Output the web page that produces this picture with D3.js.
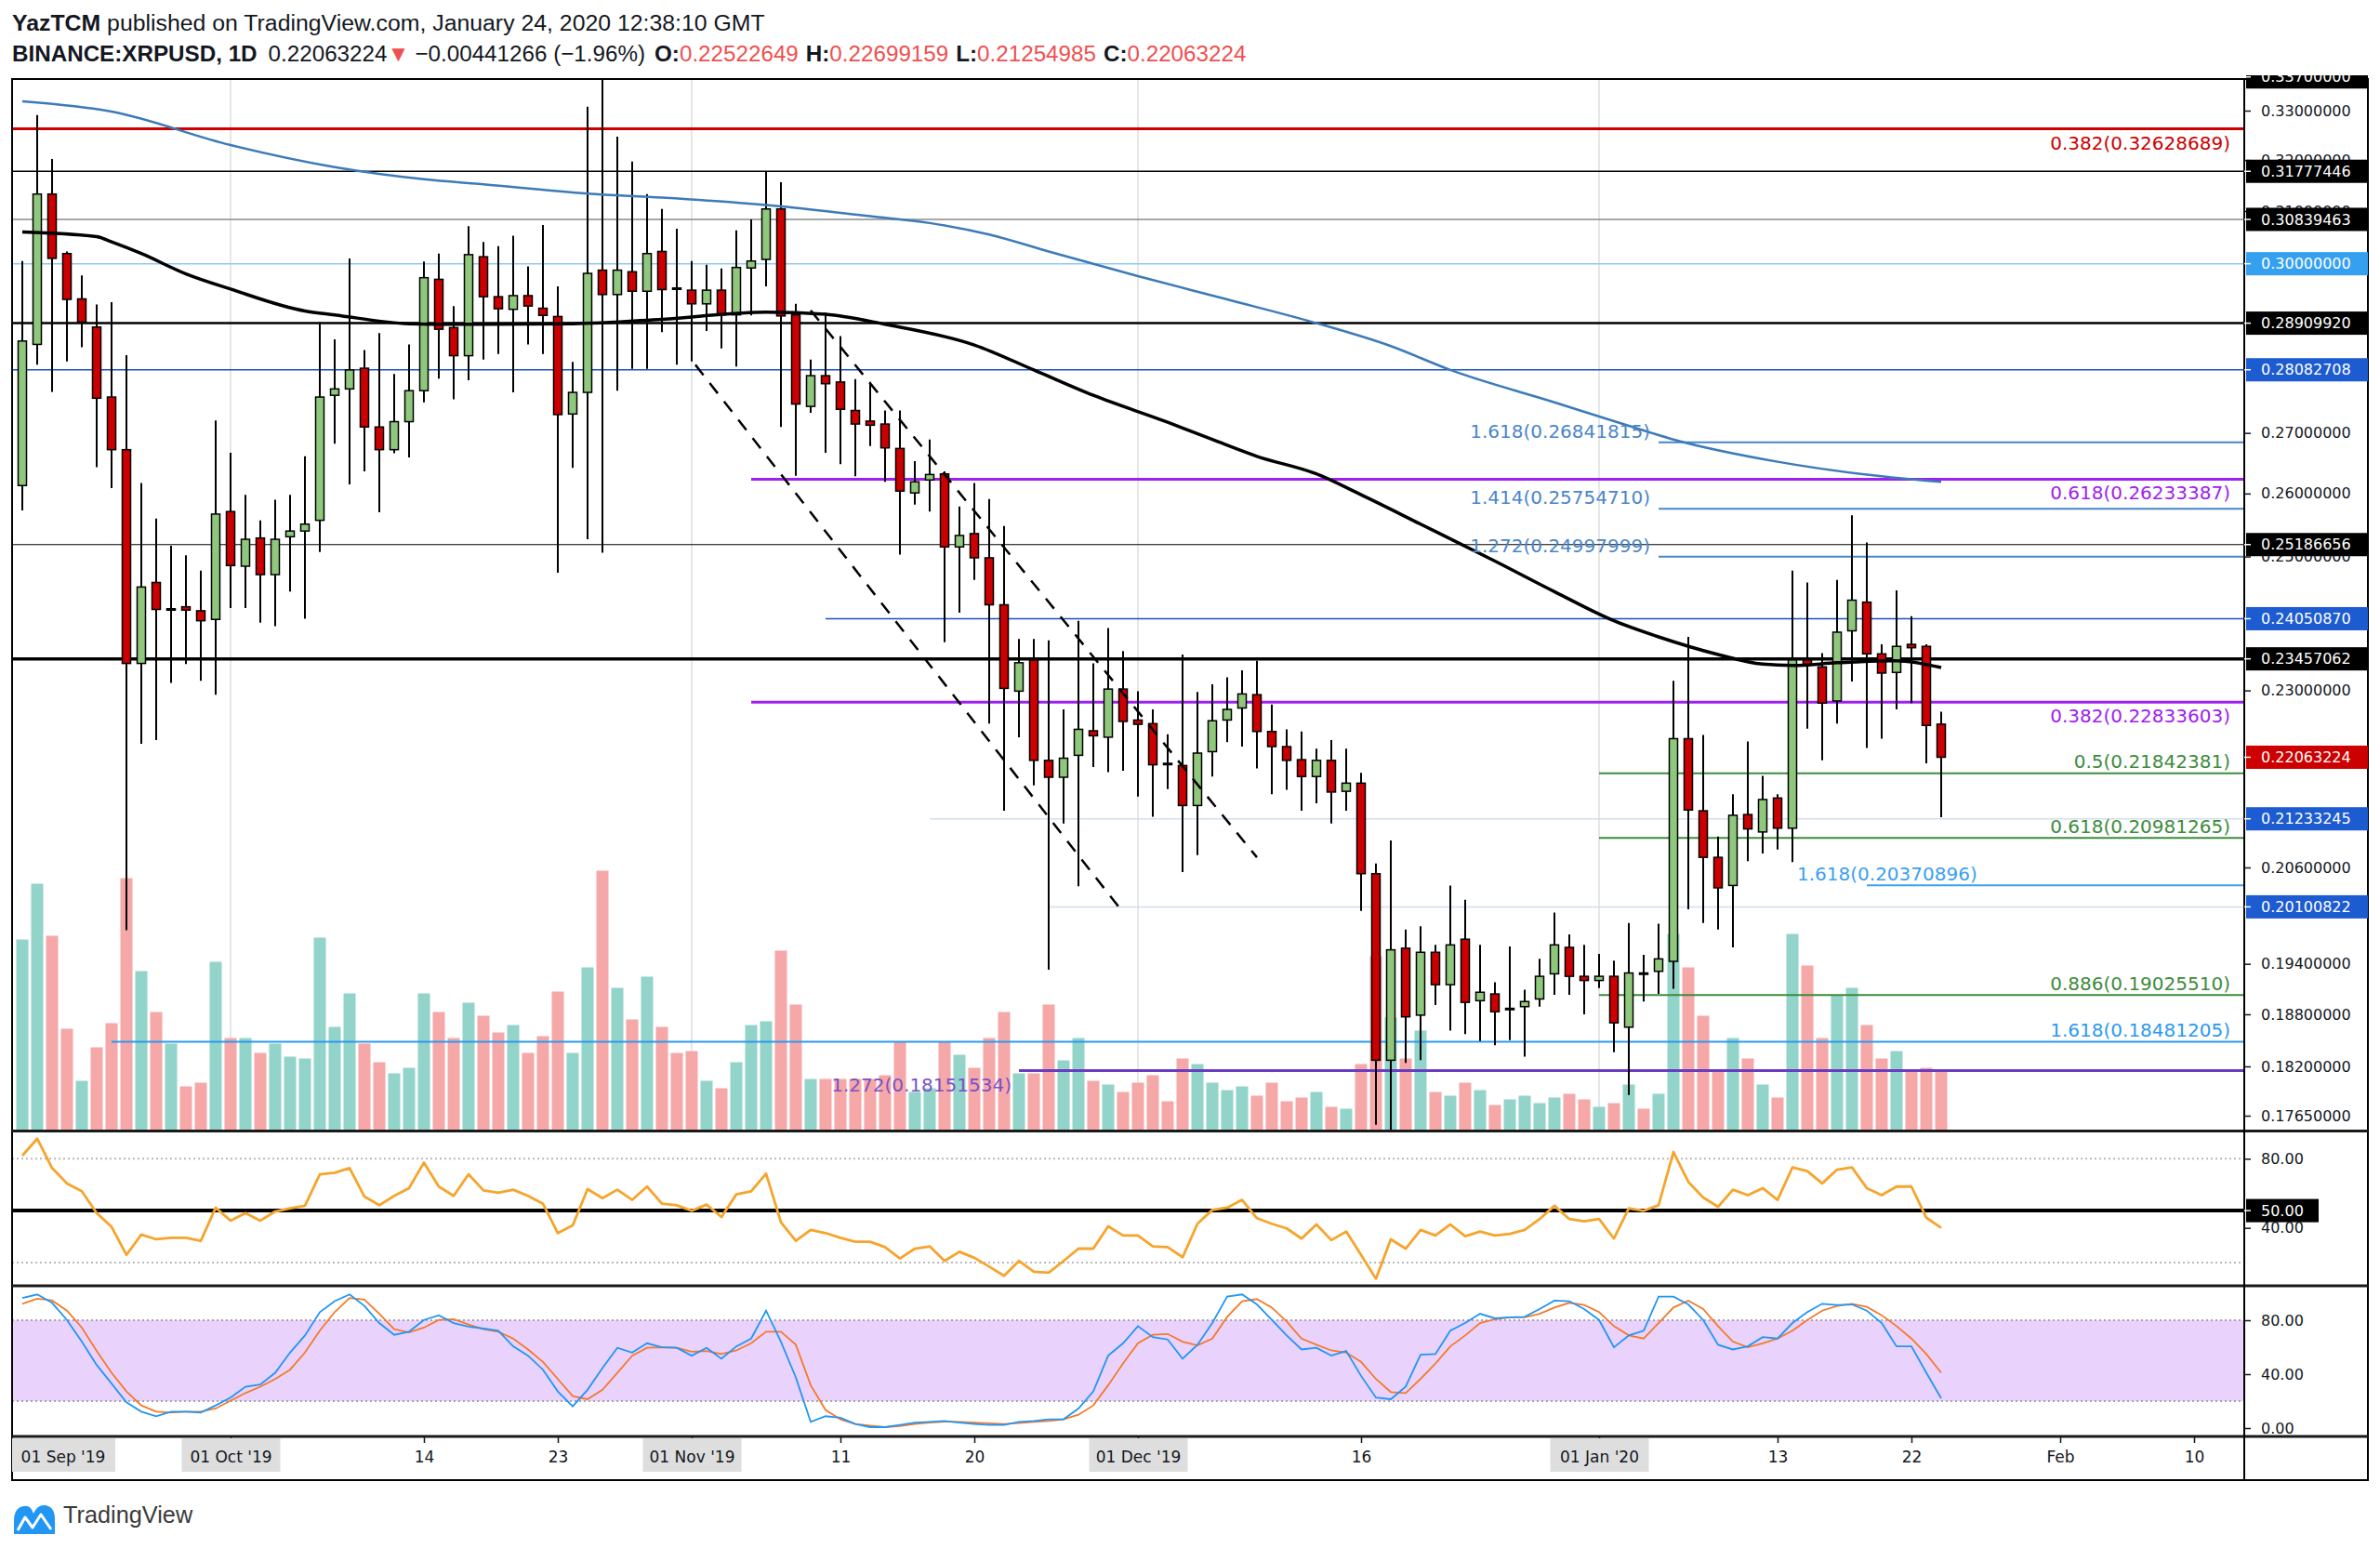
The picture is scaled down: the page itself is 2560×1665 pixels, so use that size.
<!DOCTYPE html>
<html>
<head>
<meta charset="utf-8">
<title>BINANCE:XRPUSD 1D</title>
<script src="https://cdn.jsdelivr.net/npm/d3@7"></script>
<style>
  html, body { margin:0; padding:0; background:#ffffff; }
  svg { display:block; }
</style>
</head>
<body>
<svg id="chart" width="2560" height="1665"></svg>
<script>
// ================= DATA =================
const author = "YazTCM";
const publishedText = " published on TradingView.com, January 24, 2020 12:38:10 GMT";
const symbol = "BINANCE:XRPUSD";
const interval = "1D";
const firstDay = "2019-09-17";

const open = [0.2613,0.2853,0.3133,0.3019,0.2935,0.2884,0.2761,0.2672,0.2339,0.2460,
0.2420,0.2423,0.2417,0.2404,0.2571,0.2485,0.2529,0.2472,0.2531,0.2540,
0.2557,0.2764,0.2775,0.2811,0.2710,0.2672,0.2719,0.2772,0.2971,0.2883,
0.2833,0.3013,0.2939,0.2916,0.2941,0.2918,0.2903,0.2732,0.2769,0.2988,
0.2943,0.2985,0.2949,0.3023,0.2955,0.2951,0.2926,0.2951,0.2906,0.2992,
0.3008,0.3104,0.2906,0.2745,0.2798,0.2787,0.2738,0.2720,0.2715,0.2674,
0.2601,0.2622,0.2632,0.2515,0.2536,0.2498,0.2426,0.2299,0.2344,0.2202,
0.2179,0.2209,0.2243,0.2234,0.2302,0.2258,0.2253,0.2197,0.2195,0.2141,
0.2214,0.2258,0.2275,0.2294,0.2242,0.2221,0.2203,0.2180,0.2202,0.2160,
0.2171,0.2052,0.1827,0.1959,0.1879,0.1954,0.1915,0.1970,0.1896,0.1904,
0.1886,0.1889,0.1898,0.1928,0.1960,0.1925,0.1920,0.1925,0.1865,0.1928,
0.1931,0.1943,0.2232,0.2134,0.2073,0.2037,0.2129,0.2106,0.2151,0.2111,
0.2344,0.2334,0.2285,0.2387,0.2430,0.2353,0.2326,0.2367,0.2364,0.22522649];

const high = [0.3005,0.3291,0.3202,0.3023,0.2978,0.2925,0.2929,0.2834,0.2617,0.2560,
0.2517,0.2502,0.2478,0.2721,0.2667,0.2598,0.2557,0.2590,0.2598,0.2661,
0.2893,0.2862,0.3010,0.2843,0.2873,0.2801,0.2853,0.3004,0.3019,0.2922,
0.3071,0.3041,0.3033,0.3053,0.2995,0.3073,0.2958,0.2822,0.3308,0.3375,
0.3247,0.3197,0.3133,0.3104,0.3066,0.3005,0.2998,0.2991,0.3063,0.3084,
0.3178,0.3156,0.2926,0.2826,0.2910,0.2868,0.2792,0.2787,0.2738,0.2738,
0.2653,0.2689,0.2636,0.2579,0.2617,0.2591,0.2548,0.2375,0.2375,0.2373,
0.2273,0.2402,0.2339,0.2391,0.2357,0.2299,0.2273,0.2238,0.2352,0.2298,
0.2309,0.2319,0.2329,0.2343,0.2280,0.2245,0.2242,0.2218,0.2230,0.2218,
0.2185,0.2065,0.2095,0.1982,0.1986,0.1963,0.2037,0.2019,0.1963,0.1918,
0.1961,0.1909,0.1946,0.2003,0.1976,0.1963,0.1952,0.1944,0.1990,0.1951,
0.1989,0.2314,0.2378,0.2237,0.2100,0.2156,0.2228,0.2181,0.2156,0.2478,
0.2460,0.2354,0.2464,0.2565,0.2522,0.2367,0.2448,0.2409,0.2367,0.22699159];

const low = [0.2573,0.2817,0.2770,0.2823,0.2848,0.2643,0.2609,0.1981,0.2225,0.2230,
0.2311,0.2338,0.2314,0.2294,0.2421,0.2421,0.2399,0.2394,0.2446,0.2405,
0.2507,0.2682,0.2615,0.2636,0.2570,0.2666,0.2659,0.2752,0.2793,0.2757,
0.2790,0.2826,0.2836,0.2769,0.2853,0.2836,0.2475,0.2642,0.2527,0.2506,
0.2772,0.2810,0.2810,0.2875,0.2817,0.2823,0.2877,0.2846,0.2814,0.2905,
0.2958,0.2710,0.2629,0.2734,0.2667,0.2648,0.2628,0.2678,0.2619,0.2503,
0.2582,0.2571,0.2370,0.2414,0.2464,0.2253,0.2134,0.2234,0.2168,0.1933,
0.2117,0.2036,0.2193,0.2186,0.2188,0.2153,0.2126,0.2163,0.2054,0.2076,
0.2180,0.2227,0.2221,0.2191,0.2156,0.2162,0.2134,0.2144,0.2117,0.2134,
0.2005,0.1755,0.1745,0.1824,0.1827,0.1891,0.1861,0.1857,0.1849,0.1844,
0.1850,0.1831,0.1889,0.1903,0.1903,0.1880,0.1911,0.1836,0.1788,0.1895,
0.1904,0.1910,0.2007,0.1990,0.1982,0.1960,0.2068,0.2078,0.2083,0.2067,
0.2246,0.2202,0.2253,0.2313,0.2219,0.2232,0.2273,0.2282,0.2198,0.21254985];

const close = [0.2859,0.3133,0.3010,0.2934,0.2893,0.2759,0.2672,0.2339,0.2453,0.2419,
0.2418,0.2418,0.2402,0.2567,0.2486,0.2527,0.2472,0.2527,0.2540,0.2551,
0.2761,0.2775,0.2808,0.2710,0.2672,0.2719,0.2772,0.2974,0.2880,0.2833,
0.3017,0.2939,0.2917,0.2941,0.2922,0.2905,0.2731,0.2769,0.2982,0.2943,
0.2988,0.2949,0.3019,0.2952,0.2954,0.2926,0.2951,0.2906,0.2993,0.3005,
0.3104,0.2904,0.2749,0.2798,0.2784,0.2740,0.2715,0.2713,0.2675,0.2604,
0.2619,0.2631,0.2515,0.2533,0.2498,0.2426,0.2303,0.2340,0.2202,0.2179,
0.2205,0.2245,0.2236,0.2302,0.2256,0.2252,0.2196,0.2198,0.2141,0.2212,
0.2257,0.2273,0.2295,0.2242,0.2221,0.2202,0.2180,0.2202,0.2159,0.2171,
0.2052,0.1827,0.1957,0.1877,0.1954,0.1915,0.1963,0.1894,0.1906,0.1883,
0.1887,0.1895,0.1925,0.1963,0.1925,0.1920,0.1925,0.1870,0.1929,0.1929,
0.1946,0.2232,0.2135,0.2073,0.2034,0.2128,0.2110,0.2149,0.2111,0.2344,
0.2337,0.2282,0.2385,0.2433,0.2353,0.2325,0.2364,0.2362,0.22504490,0.22063224];

const volume = [103,133,105,55,27,45,58,136,86,64,
47,24,26,91,50,50,42,47,40,39,
104,56,74,47,37,31,34,74,64,50,
69,62,53,57,42,51,75,42,88,140,
77,60,83,56,42,43,27,23,37,57,
59,97,68,28,28,28,28,28,30,48,
21,23,48,41,34,50,64,31,31,68,
38,50,27,25,21,26,30,16,39,36,
26,22,24,19,26,16,18,21,13,12,
36,94,61,39,54,21,19,26,22,14,
17,19,15,18,20,17,13,15,25,12,
20,106,88,62,32,50,39,25,18,106,
89,50,73,77,57,39,43,32,34,32];

const volumeUp = [1,1,0,0,1,0,0,0,1,0, 1,0,0,1,0,1,0,1,1,1, 1,1,1,0,0,1,1,1,0,0,
1,0,0,1,0,0,0,1,1,0, 1,0,1,0,0,0,1,0,1,1, 1,0,0,1,0,0,0,0,0,0,
1,1,0,1,0,0,0,1,0,0, 1,1,0,1,0,0,0,0,0,1, 1,1,1,0,0,0,0,1,0,1,
0,0,1,0,1,0,1,0,1,0, 1,1,1,1,0,0,1,0,1,0, 1,1,0,0,0,1,0,1,0,1,
0,0,1,1,0,0,1,0,0,0];

// moving averages read at sample days (day index from firstDay)
const ma200Day = [0,6,14,21,27,31,38,43,51,57,61,65,69,75,81,87,92,96,103,108,111,118,125,129];
const ma200Val = [0.3319,0.3298,0.3230,0.3186,0.3162,0.3152,0.3134,0.3126,0.3109,0.3090,0.3077,0.3055,
0.3023,0.2977,0.2934,0.2891,0.2850,0.2808,0.2752,0.2712,0.2689,0.2652,0.2628,0.2619];
const ma100Day = [0,5,6,8,11,14,19,21,26,29,37,43,50,54,58,64,68,72,77,80,83,87,90,94,99,103,107,110,114,117,119,122,126,129];
const ma100Val = [0.3060,0.3051,0.3041,0.3019,0.2981,0.2953,0.2913,0.2906,0.2890,0.2889,0.2890,0.2898,
0.2911,0.2907,0.2889,0.2852,0.2808,0.2764,0.2718,0.2689,0.2661,0.2632,0.2598,0.2551,0.2493,0.2446,
0.2402,0.2378,0.2352,0.2338,0.2336,0.2340,0.2343,0.2333];

const rsi = [81.8,91.6,74.6,65.7,61.2,48.6,40.6,24.4,36.1,33.4,
34.3,34.3,32.5,51.7,44.2,48.6,44.2,49.5,51.3,52.8,
71.0,71.9,74.6,58.1,53.1,58.5,63.0,77.8,63.9,58.5,
71.0,61.7,60.3,62.1,58.5,54.0,37.0,41.5,62.4,57.2,
62.1,56.2,63.9,54.0,53.1,49.9,53.5,46.3,59.4,61.2,
71.4,43.3,32.5,38.8,37.0,34.3,32.0,32.0,28.9,22.3,
28.0,29.3,20.9,26.2,22.7,17.6,12.3,20.9,14.6,14.1,
20.9,28.0,28.0,40.9,35.6,35.6,29.3,28.9,23.0,42.4,
50.4,51.7,56.2,45.6,42.4,39.7,33.8,42.0,32.9,37.9,
24.4,10.6,33.4,28.0,38.8,35.6,42.0,35.2,37.9,35.6,
36.6,38.8,45.1,52.8,45.1,43.8,45.1,33.8,51.3,49.9,
53.1,83.9,66.6,57.6,52.2,62.1,58.9,63.0,56.2,75.0,
72.8,65.7,73.7,75.0,63.0,58.9,63.9,63.9,45.9,40.0];

const stochK = [96.4,99.1,92.9,80.2,64.1,46.8,33.0,19.1,12.2,8.8,
12.2,12.2,11.5,16.8,22.6,30.7,32.3,41.0,56.0,68.7,
86.0,94.1,99.1,90.6,77.9,69.2,71.5,80.2,83.7,77.9,
75.2,73.8,72.2,60.6,53.7,43.3,27.2,16.1,28.4,44.5,
59.5,56.0,62.9,59.9,59.5,53.7,59.5,51.4,60.6,66.4,
87.1,64.1,37.6,4.6,8.8,7.6,3.0,0.7,0.7,2.3,
4.1,4.6,5.3,4.1,3.0,2.3,2.3,4.6,5.3,6.5,
6.5,14.5,27.2,53.7,62.9,75.6,67.5,65.7,51.4,61.8,
77.9,97.5,99.1,91.7,80.2,68.7,58.3,59.5,53.7,57.2,
38.7,22.6,21.4,30.7,54.4,54.9,72.2,77.9,84.8,81.4,
82.1,82.5,88.3,94.5,94.1,88.3,80.2,59.9,68.7,72.2,
97.5,97.5,91.7,80.2,61.8,58.3,60.6,67.5,66.4,77.9,
86.0,92.2,91.3,91.7,87.1,77.9,60.6,60.6,41.0,22.1];

const stochD = [92.2,95.9,94.7,87.1,74.5,57.2,41.0,27.2,16.8,12.2,
11.5,12.2,12.2,14.5,20.3,26.0,30.7,36.4,43.3,56.0,
72.2,86.0,96.4,95.2,84.8,73.3,71.0,74.5,80.2,80.7,
76.8,73.3,71.5,66.4,58.3,49.1,36.4,23.7,21.4,28.4,
41.0,53.7,59.5,59.9,59.5,56.7,57.2,54.9,57.6,62.9,
71.5,71.5,61.8,31.8,13.4,6.5,3.0,1.8,0.7,1.4,
3.0,4.1,4.8,4.6,4.1,3.5,3.0,3.7,4.6,5.3,
6.5,9.9,16.8,31.8,47.9,62.9,69.2,69.8,64.1,61.3,
66.4,82.5,94.1,95.7,89.4,79.1,66.4,61.8,57.6,56.0,
49.1,36.4,26.7,26.0,36.4,47.9,60.6,68.7,77.9,80.7,
82.1,82.1,84.8,89.4,92.9,91.3,86.0,75.6,68.7,66.4,
77.9,89.4,94.5,88.3,75.6,64.1,59.9,62.9,66.4,72.2,
80.2,87.1,90.6,92.2,89.9,83.7,75.6,66.4,54.9,41.0];

// horizontal levels (price, start date or null = whole chart, label)
const levelPrices = [0.32628689,0.31777446,0.30839463,0.30000000,0.28909920,0.28082708,0.26841815,0.26233387,
0.25754710,0.25186656,0.24997999,0.24050870,0.23457062,0.22833603,0.21842381,0.21233245,0.20981265,0.20370896,
0.20100822,0.19025510,0.18481205,0.18151534];
const levelStarts = [null,null,null,null,null,null,"2020-01-05","2019-11-05",
"2020-01-05",null,"2020-01-05","2019-11-10",null,"2019-11-05","2020-01-01","2019-11-17","2020-01-01","2020-01-19",
"2019-11-25","2020-01-01","2019-09-23","2019-11-23"];
const levelLabels = ["0.382(0.32628689)","","","","","","1.618(0.26841815)","0.618(0.26233387)",
"1.414(0.25754710)","","1.272(0.24997999)","","","0.382(0.22833603)","0.5(0.21842381)","","0.618(0.20981265)","1.618(0.20370896)",
"","0.886(0.19025510)","1.618(0.18481205)","1.272(0.18151534)"];

// price axis (ticks fully hidden behind level boxes are left out)
const priceTicks = [0.33,0.32,0.31,0.27,0.26,0.25,0.23,0.206,0.194,0.188,0.182,0.1765];
const axisBoxPrices = [0.3370,0.31777446,0.30839463,0.30,0.28909920,0.28082708,0.25186656,0.24050870,0.23457062,0.21233245,0.20100822];
const axisBoxKinds = ["k","k","k","lb","k","b","k","b","k","b","b"];

// trend channel (start date, start price, end date, end price)
const trendLines = [["2019-11-01T06:00Z",0.2817,"2019-11-30T00:00Z",0.2003],
                    ["2019-11-09T00:00Z",0.2914,"2019-12-09T00:00Z",0.2073]];

// oscillators
const rsiTicks = [80, 40];
const rsiBands = [80, 20];
const rsiMid = 50;
const stochTicks = [80, 40, 0];
const stochBand = [20, 80];

// time axis
const dateTicks = ["2019-10-01","2019-10-14","2019-10-23","2019-11-01","2019-11-11","2019-11-20",
"2019-12-01","2019-12-16","2020-01-01","2020-01-13","2020-01-22","2020-02-01","2020-02-10"];
const pinnedMonthLabel = "01 Sep '19";

// ================= LAYOUT =================
const W = 2560, H = 1665;
const L = 13, R = 2414, RR = 2547, T = 85;
const mainB = 1216.5, rsiB = 1383, stB = 1545, B = 1592;
const FONT = "'DejaVu Sans', Verdana, sans-serif";
const TXT = "#131722";

const svg = d3.select("#chart");
svg.append("rect").attr("width", W).attr("height", H).attr("fill", "#ffffff");

const parse = s => new Date(s);
const N = open.length;
const idx = d3.range(N);
const dates = idx.map(i => d3.utcDay.offset(parse(firstDay), i));
const lastDate = dates[N - 1];

const x = d3.scaleUtc().domain([parse("2019-10-01"), parse("2020-01-01")]).range([248, 1720]);
const y = d3.scaleLog().domain([0.33, 0.1765]).range([119, 1200]);
const yVol = d3.scaleLinear().domain([0, 300]).range([mainB, mainB - 600]);
const yRsi = d3.scaleLinear().domain([80, 40]).range([1246.3, 1320.7]);
const ySt = d3.scaleLinear().domain([0, 80]).range([1536, 1420]);

const defs = svg.append("defs");
function clip(id, x0, y0, x1, y1) {
  defs.append("clipPath").attr("id", id).append("rect")
    .attr("x", x0).attr("y", y0).attr("width", x1 - x0).attr("height", y1 - y0);
  return "url(#" + id + ")";
}
const main = svg.append("g").attr("clip-path", clip("cMain", L, T, R, mainB));

// month grid lines
const monthStarts = dates.filter(d => d.getUTCDate() === 1);
main.append("g").selectAll("line").data(monthStarts).join("line")
  .attr("x1", d => x(d)).attr("x2", d => x(d)).attr("y1", T).attr("y2", mainB)
  .attr("stroke", "#e6e6e6").attr("stroke-width", 2);

// volume
main.append("g").selectAll("rect").data(idx).join("rect")
  .attr("x", i => x(dates[i]) - 6.5).attr("width", 13)
  .attr("y", i => yVol(volume[i])).attr("height", i => mainB - yVol(volume[i]))
  .attr("fill", i => volumeUp[i] ? "#92d3ca" : "#f6a7a7");

// horizontal levels
const levelStyle = [
  {c:"#cc0000", w:3,   m:"rb"}, {c:"#000000", w:1.5}, {c:"#8a8a8a", w:1.5}, {c:"#8fc9f5", w:1.5},
  {c:"#000000", w:2.5}, {c:"#1b4fc4", w:1.5}, {c:"#4a86c8", w:2, m:"la"}, {c:"#a020f0", w:3, m:"rb"},
  {c:"#4a86c8", w:2, m:"la"}, {c:"#000000", w:1.2}, {c:"#4a86c8", w:2, m:"la"}, {c:"#1b4fc4", w:1.5},
  {c:"#000000", w:3.5}, {c:"#a020f0", w:3, m:"rb"}, {c:"#3d8b3d", w:2, m:"ra"}, {c:"#d3ddee", w:1.5},
  {c:"#3d8b3d", w:2, m:"ra"}, {c:"#3a9ff0", w:2, m:"sa"}, {c:"#d3ddee", w:1.5}, {c:"#3d8b3d", w:2, m:"ra"},
  {c:"#2a9af0", w:2, m:"ra"}, {c:"#6a3cc0", w:3, m:"lb"}
];
const levelG = main.append("g");
levelPrices.forEach((p, i) => {
  const x1 = levelStarts[i] ? x(parse(levelStarts[i])) : L;
  levelG.append("line").attr("x1", x1).attr("x2", R).attr("y1", y(p)).attr("y2", y(p))
    .attr("stroke", levelStyle[i].c).attr("stroke-width", levelStyle[i].w);
});

// candles
const candleG = main.append("g");
candleG.selectAll("line").data(idx).join("line")
  .attr("x1", i => x(dates[i])).attr("x2", i => x(dates[i]))
  .attr("y1", i => y(high[i])).attr("y2", i => y(low[i]))
  .attr("stroke", "#000").attr("stroke-width", 2);
candleG.selectAll("rect").data(idx).join("rect")
  .attr("x", i => x(dates[i]) - 4.5).attr("width", 9)
  .attr("y", i => y(Math.max(open[i], close[i])))
  .attr("height", i => Math.max(1.5, Math.abs(y(open[i]) - y(close[i]))))
  .attr("fill", i => close[i] >= open[i] ? "#8fc77c" : "#cc0000")
  .attr("stroke", "#000").attr("stroke-width", 1.5);

// moving averages
const maLine = d3.line().curve(d3.curveMonotoneX);
main.append("path")
  .attr("d", maLine(ma200Day.map((d, k) => [x(dates[d]), y(ma200Val[k])])))
  .attr("fill", "none").attr("stroke", "#3c7bb8").attr("stroke-width", 2.5);
main.append("path")
  .attr("d", maLine(ma100Day.map((d, k) => [x(dates[d]), y(ma100Val[k])])))
  .attr("fill", "none").attr("stroke", "#000").attr("stroke-width", 3.5);

// trend channel
main.append("g").selectAll("line").data(trendLines).join("line")
  .attr("x1", d => x(parse(d[0]))).attr("y1", d => y(d[1]))
  .attr("x2", d => x(parse(d[2]))).attr("y2", d => y(d[3]))
  .attr("stroke", "#000").attr("stroke-width", 2.5).attr("stroke-dasharray", "14,11");

// level labels
const labG = svg.append("g").attr("clip-path", "url(#cMain)")
  .style("font-family", FONT).style("font-size", "20px");
levelPrices.forEach((p, i) => {
  const s = levelStyle[i];
  if (!levelLabels[i]) return;
  const x1 = levelStarts[i] ? x(parse(levelStarts[i])) : L;
  const yy = y(p);
  let tx, ty, anchor;
  if (s.m === "rb") { tx = 2399; ty = yy + 22; anchor = "end"; }
  else if (s.m === "ra") { tx = 2399; ty = yy - 5.5; anchor = "end"; }
  else if (s.m === "la") { tx = x1 - 9; ty = yy - 5; anchor = "end"; }
  else if (s.m === "sa") { tx = x1 - 75; ty = yy - 5; anchor = "start"; }
  else { tx = x1 - 8; ty = yy + 22; anchor = "end"; }
  labG.append("text").attr("x", tx).attr("y", ty).attr("text-anchor", anchor)
    .attr("fill", s.c === "#6a3cc0" ? "#7a52c8" : s.c).text(levelLabels[i]);
});

// ---------- RSI pane ----------
const rsiG = svg.append("g").attr("clip-path", clip("cRsi", L, mainB, R, rsiB));
rsiG.selectAll("line.band").data(rsiBands).join("line").attr("class", "band")
  .attr("x1", L).attr("x2", R).attr("y1", d => yRsi(d)).attr("y2", d => yRsi(d))
  .attr("stroke", "#b9b9b9").attr("stroke-width", 2).attr("stroke-dasharray", "2,3");
rsiG.append("line").attr("x1", L).attr("x2", R).attr("y1", yRsi(rsiMid)).attr("y2", yRsi(rsiMid))
  .attr("stroke", "#000").attr("stroke-width", 4);
rsiG.append("path")
  .attr("d", d3.line()(idx.map(i => [x(dates[i]), yRsi(rsi[i])])))
  .attr("fill", "none").attr("stroke", "#f5a52c").attr("stroke-width", 2.8).attr("stroke-linejoin", "round");

// ---------- Stoch RSI pane ----------
const stG = svg.append("g").attr("clip-path", clip("cSt", L, rsiB, R, stB));
stG.append("rect").attr("x", L).attr("width", R - L)
  .attr("y", ySt(stochBand[1])).attr("height", ySt(stochBand[0]) - ySt(stochBand[1]))
  .attr("fill", "#e9d2fb");
stG.selectAll("line.band").data(stochBand).join("line").attr("class", "band")
  .attr("x1", L).attr("x2", R).attr("y1", d => ySt(d)).attr("y2", d => ySt(d))
  .attr("stroke", "#a9a2b0").attr("stroke-width", 2).attr("stroke-dasharray", "2,3");
stG.append("path")
  .attr("d", d3.line()(idx.map(i => [x(dates[i]), ySt(stochD[i])])))
  .attr("fill", "none").attr("stroke", "#f47a2c").attr("stroke-width", 1.8);
stG.append("path")
  .attr("d", d3.line()(idx.map(i => [x(dates[i]), ySt(stochK[i])])))
  .attr("fill", "none").attr("stroke", "#2196f3").attr("stroke-width", 1.8);

// ---------- frame ----------
const frame = svg.append("g");
frame.append("rect").attr("x", L).attr("y", T).attr("width", RR - L).attr("height", B - T)
  .attr("fill", "none").attr("stroke", "#000").attr("stroke-width", 2);
[mainB, rsiB, stB].forEach(v => frame.append("line").attr("x1", L).attr("x2", RR)
  .attr("y1", v).attr("y2", v).attr("stroke", "#1a1a1a").attr("stroke-width", 3));
frame.append("line").attr("x1", R).attr("x2", R).attr("y1", T).attr("y2", B)
  .attr("stroke", "#000").attr("stroke-width", 2);

// ---------- price axis ----------
function styleAxis(g) {
  g.select(".domain").remove();
  g.selectAll("text").style("font-family", FONT).style("font-size", "16px").attr("fill", TXT);
  g.selectAll("line").attr("stroke", TXT).attr("stroke-width", 1.5);
}
svg.append("g").attr("transform", `translate(${R},0)`)
  .call(d3.axisRight(y).tickValues(priceTicks).tickFormat(d3.format(".8f")).tickSize(7).tickPadding(11))
  .call(styleAxis);

const boxColors = {k:"#000000", b:"#1c5bd0", lb:"#35a0f0", r:"#cc0000"};
const boxG = svg.append("g").attr("clip-path", clip("cAxis", R, 81, RR, mainB));
function axisBox(g, yy, text, color, w) {
  const b = g.append("g").attr("transform", `translate(0,${yy})`);
  b.append("rect").attr("x", R + 2).attr("y", -12.5).attr("width", w).attr("height", 25).attr("fill", color);
  b.append("line").attr("x1", R).attr("x2", R + 7).attr("stroke", "#fff").attr("stroke-width", 1.5);
  b.append("text").attr("x", R + 18).attr("dy", "0.35em").attr("fill", "#fff")
    .style("font-family", FONT).style("font-size", "16px").text(text);
}
axisBoxPrices.forEach((p, i) => axisBox(boxG, y(p), d3.format(".8f")(p), boxColors[axisBoxKinds[i]], 131));
axisBox(boxG, y(close[N - 1]), d3.format(".8f")(close[N - 1]), boxColors.r, 131);

// RSI axis
svg.append("g").attr("transform", `translate(${R},0)`)
  .call(d3.axisRight(yRsi).tickValues(rsiTicks).tickFormat(d3.format(".2f")).tickSize(7).tickPadding(11))
  .call(styleAxis);
axisBox(svg.append("g"), yRsi(rsiMid), d3.format(".2f")(rsiMid), "#000", 78);

// Stoch axis
svg.append("g").attr("transform", `translate(${R},0)`)
  .call(d3.axisRight(ySt).tickValues(stochTicks).tickFormat(d3.format(".2f")).tickSize(7).tickPadding(11))
  .call(styleAxis);

// ---------- time axis ----------
const fmtMonth = d3.utcFormat("%d %b '%y");
const isMonthLabel = d => d.getUTCDate() === 1 && d <= lastDate;
const tickFmt = d => d.getUTCDate() === 1 ? (d <= lastDate ? fmtMonth(d) : d3.utcFormat("%b")(d)) : d3.utcFormat("%-d")(d);
const xAxisG = svg.append("g").attr("transform", `translate(0,${stB})`)
  .call(d3.axisBottom(x).tickValues(dateTicks.map(parse)).tickFormat(tickFmt).tickSize(7).tickPadding(9));
xAxisG.select(".domain").remove();
xAxisG.selectAll("line").attr("stroke", TXT).attr("stroke-width", 1.5);
xAxisG.selectAll("text").style("font-family", FONT).style("font-size", "17px").attr("fill", TXT);
xAxisG.selectAll(".tick").filter(d => isMonthLabel(d)).insert("rect", "text")
  .attr("x", -53).attr("y", 2).attr("width", 106).attr("height", 36).attr("fill", "#dedede");
// pinned first-month label at the left edge
const pin = svg.append("g").attr("transform", `translate(${L + 55},${stB})`);
pin.append("rect").attr("x", -55).attr("y", 2).attr("width", 111).attr("height", 36).attr("fill", "#dedede");
pin.append("text").attr("y", 16).attr("dy", "0.71em").attr("text-anchor", "middle")
  .style("font-family", FONT).style("font-size", "17px").attr("fill", TXT).text(pinnedMonthLabel);

// ---------- header ----------
function fitWidth(sel, target) {
  const w = sel.node().getBBox().width;
  const fs = parseFloat(sel.style("font-size"));
  sel.style("font-size", (fs * target / w) + "px");
}
const h1 = svg.append("text").attr("x", 13).attr("y", 33)
  .style("font-family", "'Liberation Sans', Arial, sans-serif").style("font-size", "22px").attr("fill", TXT);
h1.append("tspan").style("font-weight", "bold").text(author);
h1.append("tspan").text(publishedText);
fitWidth(h1, 810);

const f8 = d3.format(".8f");
const chg = close[N - 1] - close[N - 2];
const pct = chg / close[N - 2] * 100;
const RED = "#ef4f4f";
const h2 = svg.append("text").attr("x", 13).attr("y", 66)
  .style("font-family", "'Liberation Sans', Arial, sans-serif").style("font-size", "22px").attr("fill", TXT);
h2.append("tspan").style("font-weight", "bold").text(symbol + ", " + interval);
h2.append("tspan").attr("dx", 12).text(f8(close[N - 1]));
h2.append("tspan").attr("fill", RED).text("▼");
h2.append("tspan").attr("dx", 6).text(f8(chg) + " (" + d3.format(".2f")(pct) + "%)");
[["O:", open[N - 1]], ["H:", high[N - 1]], ["L:", low[N - 1]], ["C:", close[N - 1]]].forEach((p, k) => {
  h2.append("tspan").attr("dx", k === 0 ? 10 : 8).style("font-weight", "bold").text(p[0]);
  h2.append("tspan").attr("fill", RED).text(f8(p[1]));
});
fitWidth(h2, 1333);

// ---------- logo ----------
const logo = svg.append("g").attr("transform", "translate(13,1610)");
logo.append("path")
  .attr("d", "M2,40 L2,26 Q2,12 12,10 Q20,8 23,18 Q27,8 36,9 Q46,11 46,24 L46,40 Z")
  .attr("fill", "#2196f3");
logo.append("path").attr("d", "M6,36 L14,22 L22,33 L31,19 L42,35")
  .attr("fill", "none").attr("stroke", "#fff").attr("stroke-width", 3).attr("stroke-linejoin", "round");
const lt = svg.append("text").attr("x", 68).attr("y", 1638)
  .style("font-family", "'Liberation Sans', Arial, sans-serif").style("font-size", "24px")
  .attr("fill", "#3a3a3a").text("TradingView");
fitWidth(lt, 140);
</script>
</body>
</html>
